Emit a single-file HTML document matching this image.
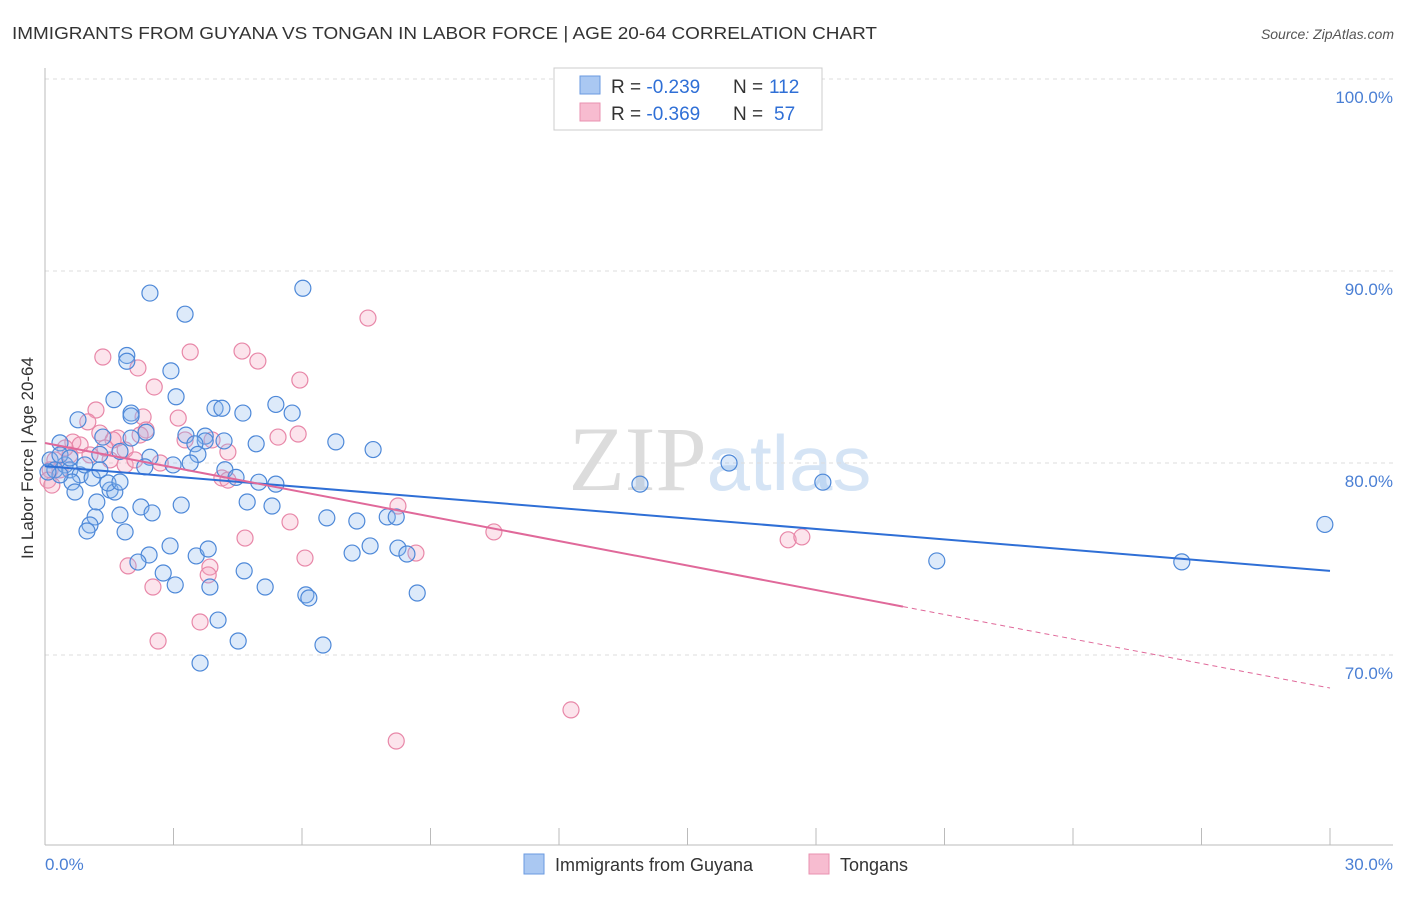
<!DOCTYPE html>
<html><head><meta charset="utf-8">
<style>
body{margin:0;background:#fff;font-family:"Liberation Sans",sans-serif;}
svg text{font-family:"Liberation Sans",sans-serif;}
</style></head>
<body>
<svg id="chart" width="1406" height="892" viewBox="0 0 1406 892" xmlns="http://www.w3.org/2000/svg">
<text x="12" y="39" font-size="17.5" fill="#333" textLength="865" lengthAdjust="spacingAndGlyphs">IMMIGRANTS FROM GUYANA VS TONGAN IN LABOR FORCE | AGE 20-64 CORRELATION CHART</text>
<text x="1394" y="39" font-size="14" fill="#555" text-anchor="end" font-style="italic">Source: ZipAtlas.com</text>
<text x="720" y="490" font-size="92" text-anchor="middle" fill="#e2e2e2"><tspan font-family="Liberation Serif" fill="#dcdcdc">ZIP</tspan><tspan fill="#d5e4f5" font-size="78">atlas</tspan></text>
<g id="grid"></g>
<g id="axes"></g>
<g id="pts"></g>
<g id="lines"></g>
<text transform="translate(33,458) rotate(-90)" font-size="17" fill="#333" text-anchor="middle">In Labor Force | Age 20-64</text>
<text x="45" y="870" font-size="17" fill="#4a7fd4">0.0%</text>
<text x="1393" y="870" font-size="17" fill="#4a7fd4" text-anchor="end">30.0%</text>
<g>
<rect x="554" y="68" width="268" height="62" fill="#fff" stroke="#ccc"/>
<rect x="580" y="76" width="20" height="18" fill="#aac8f2" stroke="#6a9ae0"/>
<rect x="580" y="103" width="20" height="18" fill="#f7bcd0" stroke="#ea92b0"/>
<text x="611" y="93" font-size="19" fill="#333">R = <tspan fill="#2f6fd6">-0.239</tspan></text>
<text x="733" y="93" font-size="19" fill="#333">N =</text>
<text x="769" y="93" font-size="19" fill="#2f6fd6">112</text>
<text x="611" y="120" font-size="19" fill="#333">R = <tspan fill="#2f6fd6">-0.369</tspan></text>
<text x="733" y="120" font-size="19" fill="#333">N =</text>
<text x="774" y="120" font-size="19" fill="#2f6fd6">57</text>
</g>
<g>
<rect x="524" y="854" width="20" height="20" fill="#aac8f2" stroke="#6a9ae0"/>
<text x="555" y="871" font-size="18" fill="#333">Immigrants from Guyana</text>
<rect x="809" y="854" width="20" height="20" fill="#f7bcd0" stroke="#ea92b0"/>
<text x="840" y="871" font-size="18" fill="#333">Tongans</text>
</g>
</svg>
<script>
const yTicks=[100,90,80,70];
const yTickLabels=["100.0%","90.0%","80.0%","70.0%"];
const xTicks=[0,3,6,9,12,15,18,21,24,27,30];
const blueX=[2.45,6.02,3.27,1.91,1.91,2.94,1.61,3.06,2.01,2.01,3.97,4.13,4.62,5.39,5.77,0.77,2.36,3.29,3.74,3.74,3.50,4.18,4.93,6.79,7.66,0.35,1.35,2.01,1.75,1.28,2.45,3.57,3.39,4.20,4.46,4.99,5.39,2.99,2.33,15.97,13.89,18.16,29.88,26.54,20.82,
0.12,0.23,0.47,0.58,0.82,0.93,1.10,0.63,0.35,0.07,0.70,1.21,1.52,1.63,1.47,2.24,2.50,3.18,1.75,1.17,1.05,0.98,1.87,
4.72,5.30,6.58,7.28,7.99,8.20,
2.43,2.17,2.92,3.53,3.81,4.65,2.76,3.04,3.85,5.14,6.09,6.16,7.17,7.59,8.24,8.45,8.69,
4.04,4.51,6.49,3.62,1.28,1.75,0.35,0.58];
const blueY=[88.85,89.1,87.75,85.6,85.3,84.8,83.3,83.45,82.6,82.45,82.85,82.85,82.6,83.05,82.6,82.25,81.6,81.45,81.4,81.15,81.0,81.15,81.0,81.1,80.7,81.05,81.35,81.3,80.6,80.45,80.3,80.45,80.0,79.65,79.25,79.0,78.9,79.9,79.8,80.0,78.9,79.0,76.8,74.85,74.9,
80.16,79.64,79.9,79.64,79.38,79.9,79.22,79.01,79.38,79.53,78.49,77.97,78.59,78.49,78.96,77.71,77.4,77.81,77.29,77.19,76.77,76.46,76.41,
77.97,77.76,77.14,76.98,77.19,77.19,
75.21,74.84,75.68,75.16,75.52,74.38,74.27,73.65,73.54,73.54,73.13,72.97,75.31,75.68,75.57,75.26,73.23,
71.82,70.73,70.52,69.58,79.64,79.01,80.42,80.26];
const pinkX=[7.54,1.35,4.60,4.97,3.39,2.17,2.55,5.95,1.19,2.29,1.0,3.11,2.36,1.70,1.28,1.59,0.65,0.82,3.27,3.90,4.27,5.44,5.91,1.52,1.87,2.69,1.87,0.58,0.23,0.12,0.07,0.16,4.13,4.27,8.24,5.72,4.67,10.48,17.35,17.67,6.07,8.66,1.94,3.85,3.81,2.52,3.62,2.64,12.28,8.20,0.35,1.05,0.47,1.40,2.10,2.22];
const pinkY=[87.55,85.52,85.83,85.31,85.78,84.95,83.96,84.32,82.76,82.4,82.14,82.34,81.72,81.3,81.56,81.2,81.09,80.94,81.2,81.2,80.57,81.35,81.51,80.16,79.9,80.0,80.68,80.42,80.16,79.64,79.11,78.85,79.22,79.11,77.76,76.93,76.09,76.41,76.0,76.15,75.05,75.31,74.64,74.58,74.17,73.54,71.72,70.73,67.14,65.52,79.64,80.42,80.78,80.78,80.16,81.46];
const blueTrend=[79.84,74.38];
const pinkTrend=[81.04,68.28];
const pinkSolidEnd=20.03;

const X0=45,X1=1330,Y100=79,PX_PER_PCT=19.2;
const sx=v=>X0+(v/30)*(X1-X0);
const sy=v=>Y100+(100-v)*PX_PER_PCT;
const NS="http://www.w3.org/2000/svg";
function mk(tag,attrs,parent){const e=document.createElementNS(NS,tag);for(const k in attrs)e.setAttribute(k,attrs[k]);parent.appendChild(e);return e;}
const grid=document.getElementById('grid'),axes=document.getElementById('axes'),pts=document.getElementById('pts'),lines=document.getElementById('lines');
yTicks.forEach((t,i)=>{
  const l=mk('line',{x1:X0,x2:1393,y1:sy(t),y2:sy(t),stroke:'#ddd','stroke-dasharray':'4,4'},grid);
  
  
  const tx=mk('text',{x:1393,y:sy(t)+24,'font-size':17,fill:'#4a7fd4','text-anchor':'end'},grid);
  tx.textContent=yTickLabels[i];
  
  
});
const ax=mk('line',{x1:X0,x2:X0,y1:68,y2:845,stroke:'#bbb'},axes);


const bx=mk('line',{x1:X0,x2:1393,y1:845,y2:845,stroke:'#bbb'},axes);


xTicks.forEach(t=>{
  const l=mk('line',{x1:sx(t),x2:sx(t),y1:828,y2:845,stroke:'#bbb'},axes);
  
  
});
function dots(xs,ys,fill,stroke,name){
  xs.forEach((x,i)=>{
    const c=mk('circle',{cx:sx(x),cy:sy(ys[i]),r:8,fill:fill,'fill-opacity':0.3,stroke:stroke,'stroke-width':1.2},pts);
    
    
  });
}
dots(pinkX,pinkY,'#f4a6c0','#e887a8','tongan-point');
dots(blueX,blueY,'#8db8ee','#4d88d8','guyana-point');
const tb=mk('line',{x1:sx(0),y1:sy(blueTrend[0]),x2:sx(30),y2:sy(blueTrend[1]),stroke:'#2f6fd6','stroke-width':2},lines);


const py=x=>pinkTrend[0]+(pinkTrend[1]-pinkTrend[0])*x/30;
const tp=mk('line',{x1:sx(0),y1:sy(py(0)),x2:sx(pinkSolidEnd),y2:sy(py(pinkSolidEnd)),stroke:'#e0699a','stroke-width':2},lines);


const td=mk('line',{x1:sx(pinkSolidEnd),y1:sy(py(pinkSolidEnd)),x2:sx(30),y2:sy(py(30)),stroke:'#e0699a','stroke-width':1,'stroke-dasharray':'5,4'},lines);


</script>
</body></html>
